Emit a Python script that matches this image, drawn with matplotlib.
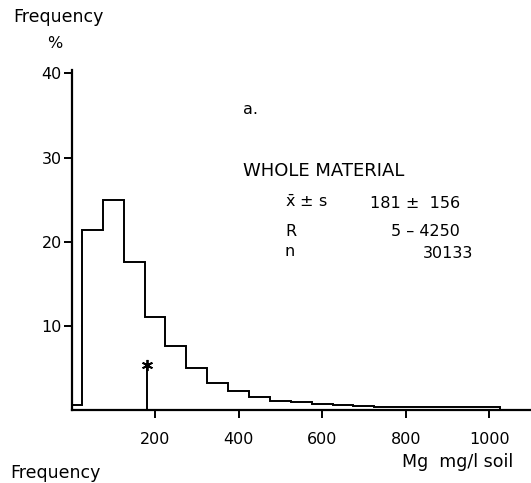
import matplotlib
matplotlib.use("Agg")
import matplotlib.pyplot as plt
import numpy as np

# ---- data ----
bin_edges = [0, 25, 75, 125, 175, 225, 275, 325, 375, 425, 475, 525, 575,
             625, 675, 725, 775, 825, 875, 925, 975, 1025]
freq_pct = [0.6, 21.4, 25.0, 17.6, 11.1, 7.6, 5.0, 3.2, 2.3, 1.6, 1.1, 0.9,
            0.75, 0.6, 0.46, 0.4, 0.38, 0.35, 0.33, 0.32, 0.3]
mean_val = 181
sd_val = 156
range_min, range_max = 5, 4250
n_obs = 30133
mean_marker_height = 5.2
x_ticks = [200, 400, 600, 800, 1000]
y_ticks = [10, 20, 30, 40]

W, H = 531, 483
fig = plt.figure(figsize=(W / 100, H / 100), dpi=100)
plt.rcParams['font.family'] = ['DejaVu Sans']

def px(x, y):
    return x / W, 1 - y / H

# axes: data x=0 at px 71.5, x=1100 at px 531; y=0 at px 410, 40.4 at px 70
left, bottom = px(71.5, 410)
right, top = px(531, 70)
ax = fig.add_axes([left, bottom, right - left, top - bottom])
ax.set_xlim(0, 1100)
ax.set_ylim(0, 40.4)

ax.stairs(freq_pct, bin_edges, baseline=0, fill=False, color='black', lw=1.4)
ax.plot([mean_val, mean_val], [0, mean_marker_height], color='black', lw=1.4,
        clip_on=False)
ax.plot([mean_val], [mean_marker_height + 0.1], marker=(6, 2, 0), ms=8,
        mew=1.3, color='black', clip_on=False)

for s in ['top', 'right']:
    ax.spines[s].set_visible(False)
for s in ['left', 'bottom']:
    ax.spines[s].set_linewidth(1.6)

fs = 11.5
fsw = 12.5
ax.set_xticks(x_ticks)
ax.set_yticks(y_ticks)
ax.tick_params(axis='x', direction='out', length=6, width=1.4, pad=10,
               labelsize=fs)
ax.tick_params(axis='y', direction='out', length=6, width=1.4, pad=1,
               labelsize=fs)

# texts
fig.text(*px(13, 17), "Frequency", fontsize=fsw, ha='left', va='center')
fig.text(*px(47, 43), "%", fontsize=fs, ha='left', va='center')
fig.text(*px(243, 109), "a.", fontsize=fs, ha='left', va='center')
fig.text(*px(243, 171), "WHOLE MATERIAL", fontsize=fsw + 0.5, ha='left',
         va='center')
fig.text(*px(285, 202), r"$\bar{\mathrm{x}}$ ± s", fontsize=fs, ha='left',
         va='center')
fig.text(*px(460, 203), f"{mean_val} ±  {sd_val}", fontsize=fs, ha='right',
         va='center')
fig.text(*px(285, 231), "R", fontsize=fs, ha='left', va='center')
fig.text(*px(460, 231), f"{range_min} – {range_max}", fontsize=fs,
         ha='right', va='center')
fig.text(*px(285, 252), "n", fontsize=fs, ha='left', va='center')
fig.text(*px(473, 253), f"{n_obs}", fontsize=fs, ha='right', va='center')
fig.text(*px(513, 462), "Mg  mg/l soil", fontsize=fsw, ha='right',
         va='center')
fig.text(*px(10, 473), "Frequency", fontsize=fsw, ha='left', va='center')

fig.savefig("out.png", dpi=100)
